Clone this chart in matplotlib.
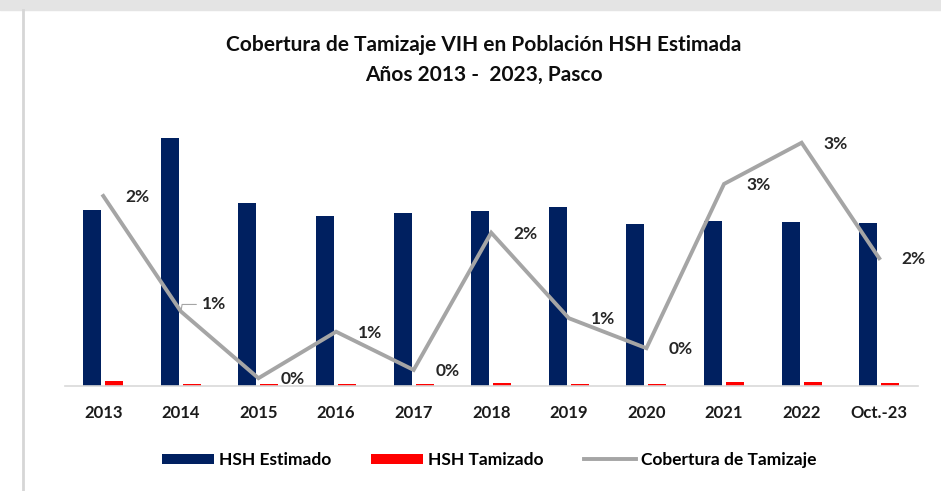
import numpy as np
import matplotlib
matplotlib.use("Agg")
import matplotlib.pyplot as plt
from matplotlib.patches import Rectangle
from matplotlib.lines import Line2D

plt.rcParams['font.family'] = ['Lato', 'DejaVu Sans']

# datos
anios = ["2013", "2014", "2015", "2016", "2017", "2018", "2019", "2020", "2021", "2022", "Oct.-23"]
hsh_estimado = [1757, 2474, 1824, 1697, 1727, 1747, 1787, 1617, 1647, 1634, 1624]
hsh_tamizado = [43, 17, 17, 17, 17, 27, 17, 17, 42, 42, 27]
cobertura = [0.0243, 0.0089, 0.0000, 0.0062, 0.0011, 0.0194, 0.0080, 0.0040, 0.0259, 0.0314, 0.0160]

navy = "#002060"
rojo = "#FF0000"
gris = "#A5A5A5"

fig = plt.figure(figsize=(9.41, 4.91), dpi=100)

# marco gris (sombra superior e izquierda)
fig.patches.append(Rectangle((0, 1 - 10 / 491), 1, 10 / 491, transform=fig.transFigure,
                             color="#E4E4E4", zorder=0))
fig.lines.append(Line2D([23 / 941, 23 / 941], [0, 1 - 10 / 491], transform=fig.transFigure,
                        color="#D6D6D6", lw=2))

ax = fig.add_axes([64.5 / 941, (491 - 385.7) / 491, (918 - 64.5) / 941, (385.7 - 120) / 491])
ax2 = ax.twinx()

x = np.arange(len(anios))
w = 0.232
b1 = ax.bar(x - 0.142, hsh_estimado, width=w, color=navy, label="HSH Estimado")
b2 = ax.bar(x + 0.142, hsh_tamizado, width=w, color=rojo, label="HSH Tamizado")
ln, = ax2.plot(x, cobertura, color=gris, lw=2.8, label="Cobertura de Tamizaje",
               solid_joinstyle="miter")

ax.set_xlim(-0.5, len(anios) - 0.5)
ax.set_ylim(0, 2657)
ax2.set_ylim(-0.001, 0.03443)

for a in (ax, ax2):
    for s in ["top", "right", "left"]:
        a.spines[s].set_visible(False)
    a.set_yticks([])
ax2.spines["bottom"].set_visible(False)
ax.spines["bottom"].set_color("#D9D9D9")
ax.spines["bottom"].set_linewidth(1.2)

ax.set_xticks(x)
ax.set_xticklabels(anios, fontsize=12, fontweight="bold", color="#1a1a1a")
ax.tick_params(axis="x", length=0, pad=14)

# etiquetas de datos
for i, v in enumerate(cobertura):
    txt = f"{v:.0%}"
    if i == 1:
        ax2.annotate(txt, (i, v), xytext=(21, 7), textcoords="offset pixels",
                     ha="left", va="center", fontsize=12.5, fontweight="bold", color="#262626",
                     arrowprops=dict(arrowstyle="-", color=gris, lw=0.8, shrinkA=2, shrinkB=0,
                                     connectionstyle="angle,angleA=0,angleB=80,rad=0"))
    else:
        ax2.annotate(txt, (i, v), xytext=(22, -1), textcoords="offset pixels",
                     ha="left", va="center", fontsize=12.5, fontweight="bold", color="#262626")

fig.text(484 / 941, 1 - 45 / 491, "Cobertura de Tamizaje VIH en Población HSH Estimada",
         ha="center", va="center", fontsize=15, fontweight="bold", color="#0d0d0d")
fig.text(484 / 941, 1 - 75 / 491, "Años 2013 -  2023, Pasco",
         ha="center", va="center", fontsize=15, fontweight="bold", color="#0d0d0d")

fig.legend([b1, b2, ln], ["HSH Estimado", "HSH Tamizado", "Cobertura de Tamizaje"],
           loc="center", bbox_to_anchor=(489 / 941, 1 - 460 / 491), ncol=3, frameon=False,
           prop={"size": 12.5, "weight": "bold"}, handlelength=3.0, handleheight=0.55,
           handletextpad=0.3, columnspacing=2.3)

fig.savefig("out.png", dpi=100)
